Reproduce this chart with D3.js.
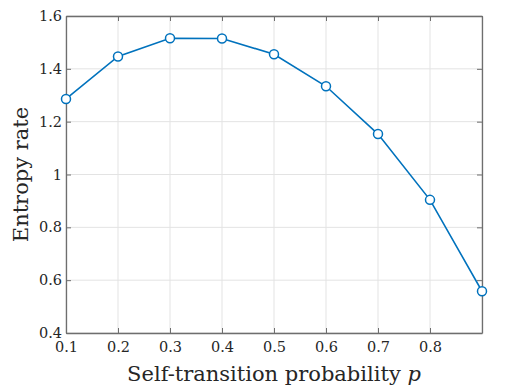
<!DOCTYPE html>
<html><head><meta charset="utf-8">
<script src="https://cdn.jsdelivr.net/npm/d3@7"></script>
<style>body{margin:0;background:#fff}</style>
</head><body>
<svg id="c" width="512" height="387"></svg>
<script>
const pValues = [0.1,0.2,0.3,0.4,0.5,0.6,0.7,0.8,0.9];
const entropyRate = [1.286,1.447,1.516,1.515,1.455,1.334,1.153,0.904,0.558];
const xTicks = [0.1,0.2,0.3,0.4,0.5,0.6,0.7,0.8,0.9];
const xTickLabels = ["0.1","0.2","0.3","0.4","0.5","0.6","0.7","0.8",""];
const yTicks = [0.4,0.6,0.8,1.0,1.2,1.4,1.6];
const yTickLabels = ["0.4","0.6","0.8","1","1.2","1.4","1.6"];

const svg = d3.select("#c");
const L=66,R=482,T=16,B=333;
const x = d3.scaleLinear().domain([0.1,0.9]).range([L,R]);
const y = d3.scaleLinear().domain([0.4,1.6]).range([B,T]);
const font = "DejaVu Serif, serif";
const axisCol = "#6e6e6e";

svg.append("g").selectAll("line").data(xTicks).join("line")
  .attr("x1",d=>x(d)).attr("x2",d=>x(d)).attr("y1",T).attr("y2",B)
  .attr("stroke","#e3e3e3").attr("stroke-width",1);
svg.append("g").selectAll("line").data(yTicks).join("line")
  .attr("y1",d=>y(d)).attr("y2",d=>y(d)).attr("x1",L).attr("x2",R)
  .attr("stroke","#e3e3e3").attr("stroke-width",1);

const tl = 5;
const xb = svg.append("g").attr("transform",`translate(0,${B})`)
  .call(d3.axisBottom(x).tickValues(xTicks).tickFormat((d,i)=>xTickLabels[i]).tickSizeInner(-tl).tickSizeOuter(0).tickPadding(9));
const xt = svg.append("g").attr("transform",`translate(0,${T})`)
  .call(d3.axisTop(x).tickValues(xTicks).tickFormat("").tickSizeInner(-tl).tickSizeOuter(0));
const yl = svg.append("g").attr("transform",`translate(${L},0)`)
  .call(d3.axisLeft(y).tickValues(yTicks).tickFormat((d,i)=>yTickLabels[i]).tickSizeInner(-tl).tickSizeOuter(0).tickPadding(4));
const yr = svg.append("g").attr("transform",`translate(${R},0)`)
  .call(d3.axisRight(y).tickValues(yTicks).tickFormat("").tickSizeInner(-tl).tickSizeOuter(0));
[xb,xt,yl,yr].forEach(g=>{
  g.selectAll("path").attr("stroke",axisCol).attr("stroke-width",1.3);
  g.selectAll("line").attr("stroke",axisCol).attr("stroke-width",1);
  g.selectAll("text").attr("font-family",font).attr("font-size",14.5).attr("fill","#262626");
});

svg.append("path").datum(pValues.map((p,i)=>[p,entropyRate[i]]))
  .attr("d",d3.line().x(d=>x(d[0])).y(d=>y(d[1])))
  .attr("fill","none").attr("stroke","#0072BD").attr("stroke-width",1.6);
svg.append("g").selectAll("circle").data(pValues.map((p,i)=>[p,entropyRate[i]])).join("circle")
  .attr("cx",d=>x(d[0])).attr("cy",d=>y(d[1])).attr("r",4.5)
  .attr("fill","#fff").attr("stroke","#0072BD").attr("stroke-width",1.5);

svg.append("text").attr("x",(L+R)/2).attr("y",381).attr("text-anchor","middle")
  .attr("font-family",font).attr("font-size",21).attr("fill","#262626")
  .html("Self-transition probability <tspan font-style='italic'>p</tspan>");
svg.append("text").attr("transform",`translate(28,${(T+B)/2}) rotate(-90)`).attr("text-anchor","middle")
  .attr("font-family",font).attr("font-size",21).attr("fill","#262626")
  .text("Entropy rate");
</script>
</body></html>
